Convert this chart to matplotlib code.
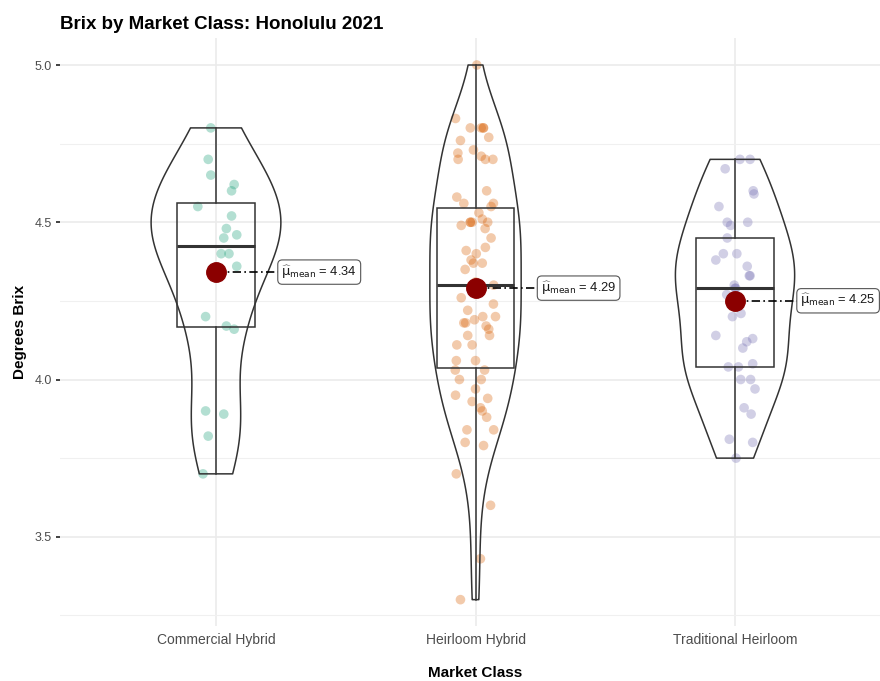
import numpy as np
import matplotlib.pyplot as plt
from matplotlib import mlab

plt.rcParams['font.family'] = ['Liberation Sans', 'DejaVu Sans']
plt.rcParams['mathtext.fontset'] = 'dejavusans'

# market classes and colours (Dark2)
classes = ['Commercial Hybrid', 'Heirloom Hybrid', 'Traditional Heirloom']
colors = ['#1B9E77', '#D95F02', '#7570B3']

# degrees brix per fruit
commercial = [4.80, 4.70, 4.65, 4.62, 4.60, 4.55, 4.52, 4.48, 4.46, 4.45,
              4.40, 4.40, 4.36, 4.20, 4.17, 4.16, 3.90, 3.89, 3.82, 3.70]
heirloom = [5.00, 4.83, 4.80, 4.80, 4.80, 4.76, 4.77, 4.72, 4.70, 4.73,
            4.71, 4.70, 4.70, 4.60, 4.58, 4.56, 4.56, 4.53, 4.49, 4.50,
            4.50, 4.51, 4.50, 4.48, 4.45, 4.42, 4.41, 4.40, 4.38, 4.37,
            4.37, 4.35, 4.30, 4.26, 4.24, 4.22, 4.20, 4.20, 4.18, 4.18,
            4.19, 4.17, 4.16, 4.14, 4.11, 4.11, 4.14, 4.06, 4.06, 4.03,
            4.03, 4.00, 4.00, 3.97, 3.95, 3.94, 3.93, 3.91, 3.90, 3.88,
            3.84, 3.84, 3.80, 3.79, 3.70, 3.60, 3.43, 3.30,
            4.80, 4.55, 4.50, 4.31, 4.30, 4.30]
traditional = [4.67, 4.70, 4.70, 4.59, 4.55, 4.50, 4.49, 4.50, 4.40, 4.38,
               4.40, 4.36, 4.33, 4.30, 4.29, 4.27, 4.21, 4.20, 4.14, 4.13,
               4.12, 4.10, 4.04, 4.04, 4.05, 4.00, 4.00, 3.97, 3.91, 3.89,
               3.81, 3.80, 3.75, 4.60, 4.45, 4.33, 4.29]

# horizontal jitter of each point (category units)
commercial_jit = [-0.02, -0.03, -0.02, 0.07, 0.06, -0.07, 0.06, 0.04, 0.08, 0.03,
                  0.02, 0.05, 0.08, -0.04, 0.04, 0.07, -0.04, 0.03, -0.03, -0.05]
heirloom_jit = [0.005, -0.077, -0.020, 0.022, 0.031, -0.058, 0.051, -0.068, -0.067, -0.008,
                0.022, 0.038, 0.067, 0.043, -0.072, -0.045, 0.069, 0.013, -0.055, -0.020,
                -0.013, 0.026, 0.047, 0.037, 0.060, 0.038, -0.036, 0.003, -0.017, -0.008,
                0.026, -0.040, 0.070, -0.055, 0.069, -0.030, 0.028, 0.077, -0.045, -0.038,
                -0.004, 0.041, 0.051, -0.030, -0.072, -0.013, 0.054, -0.074, 0.000, -0.078,
                0.035, -0.062, 0.022, 0.000, -0.077, 0.047, -0.013, 0.019, 0.026, 0.043,
                -0.033, 0.070, -0.040, 0.031, -0.074, 0.058, 0.019, -0.058,
                0.030, 0.060, -0.020, 0.000, -0.010, 0.010]
traditional_jit = [-0.038, 0.019, 0.058, 0.073, -0.062, -0.030, -0.017, 0.049, -0.045, -0.074,
                   0.007, 0.047, 0.058, -0.003, 0.003, -0.032, 0.023, -0.010, -0.074, 0.068,
                   0.045, 0.030, -0.026, 0.013, 0.068, 0.022, 0.060, 0.077, 0.035, 0.062,
                   -0.022, 0.068, 0.004, 0.070, -0.030, 0.055, 0.000]

groups = [np.array(commercial), np.array(heirloom), np.array(traditional)]
jitters = [np.array(commercial_jit), np.array(heirloom_jit), np.array(traditional_jit)]
pos = np.arange(1, 4)


def nrd0(v):
    # Silverman's rule of thumb, same as R's bw.nrd0
    sd = np.std(v, ddof=1)
    iqr = np.subtract(*np.percentile(v, [75, 25]))
    return 0.9 * min(sd, iqr / 1.34) * len(v) ** -0.2


def bw_factor(kde):
    v = np.ravel(kde.dataset)
    return nrd0(v) / np.std(v, ddof=1)


# violins scaled by area: width follows each group's peak density
peaks = []
for v in groups:
    kde = mlab.GaussianKDE(v, bw_factor)
    grid = np.linspace(v.min(), v.max(), 512)
    peaks.append(kde.evaluate(grid).max())
peaks = np.array(peaks)
vwidths = 0.5 * peaks / peaks.max()

fig = plt.figure(figsize=(8.8, 6.81), dpi=100)
ax = fig.add_axes([0.0685, 0.0802, 0.9437, 0.8636])

edge = '#333333'
for p, v, j, c in zip(pos, groups, jitters, colors):
    ax.scatter(p + j, v, s=48, color=c, alpha=0.33, edgecolors='none', zorder=1)

bp = ax.boxplot(groups, positions=pos, widths=0.3, whis=1.5, showfliers=False,
                showcaps=False, patch_artist=True, manage_ticks=False,
                boxprops=dict(facecolor='none', edgecolor=edge, linewidth=1.1),
                whiskerprops=dict(color=edge, linewidth=1.1),
                medianprops=dict(color=edge, linewidth=2.2))
for part in bp['boxes'] + bp['whiskers'] + bp['medians']:
    part.set_zorder(2)

vp = ax.violinplot(groups, positions=pos, widths=vwidths, bw_method=bw_factor,
                   points=512, showextrema=False)
for body in vp['bodies']:
    body.set_facecolor('none')
    body.set_edgecolor(edge)
    body.set_linewidth(1.1)
    body.set_alpha(1)
    body.set_zorder(3)

# group means with labels
for p, v in zip(pos, groups):
    m = v.mean()
    ax.plot([p, p + 0.239], [m, m], color='black', lw=1.2, ls=(0, (5, 2, 1, 2)), zorder=4)
    ax.plot(p, m, 'o', color='#8B0000', ms=14, mec='#8B0000', zorder=5)
    ax.text(p + 0.252, m, r'$\widehat{\mathrm{\mu}}_{\mathrm{mean}}$ = %.2f' % m,
            ha='left', va='center', fontsize=9.3, color='#1A1A1A', zorder=6, clip_on=False,
            bbox=dict(boxstyle='round,pad=0.28,rounding_size=0.35', fc='white', ec='#555555', lw=0.8))

ax.set_xlim(0.4, 3.6)
ax.set_ylim(3.215, 5.085)
ax.set_xticks(pos)
ax.set_xticklabels(classes)
ax.set_yticks([3.5, 4.0, 4.5, 5.0])
ax.set_yticklabels(['3.5', '4.0', '4.5', '5.0'])
ax.set_yticks([3.25, 3.75, 4.25, 4.75], minor=True)

ax.grid(which='major', color='#EBEBEB', lw=1.2)
ax.grid(which='minor', axis='y', color='#F0F0F0', lw=0.8)
ax.set_axisbelow(True)
for s in ax.spines.values():
    s.set_visible(False)

ax.tick_params(axis='y', which='major', length=3, width=1.3, color=edge,
               labelcolor='#4D4D4D', labelsize=9, pad=3)
ax.tick_params(axis='y', which='minor', length=0)
ax.tick_params(axis='x', length=0, labelcolor='#4D4D4D', labelsize=10, pad=5)

ax.set_xlabel('Market Class', fontsize=11, fontweight='bold', va='center')
ax.xaxis.set_label_coords(0.5, -0.079)
ax.set_ylabel('Degrees Brix', fontsize=11, fontweight='bold', va='center')
ax.yaxis.set_label_coords(-0.0485, 0.5)
ax.set_title('Brix by Market Class: Honolulu 2021', loc='left', fontsize=13.5,
             fontweight='bold', pad=6.7)

fig.savefig('out.png', dpi=100)
